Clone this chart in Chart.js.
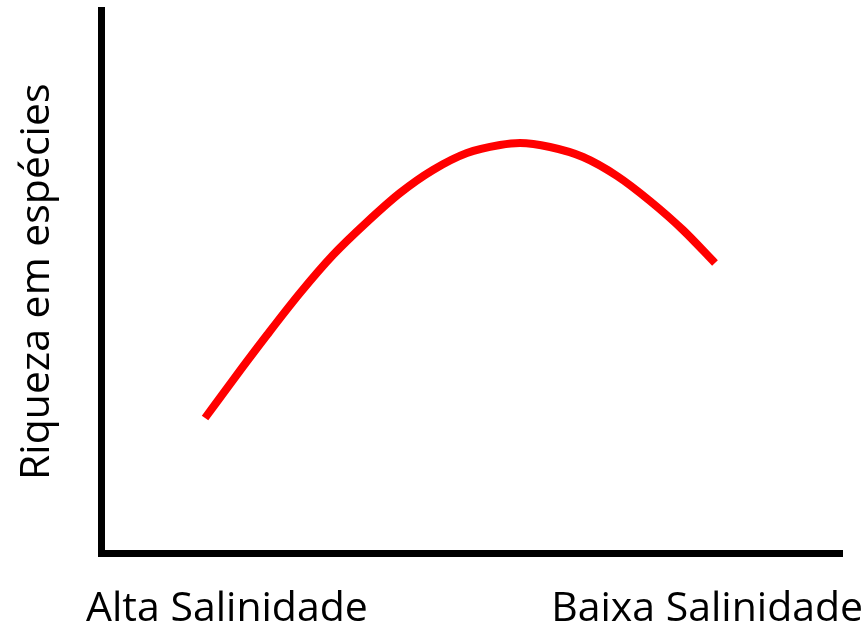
<!DOCTYPE html>
<html>
<head>
<meta charset="utf-8">
<script src="https://cdn.jsdelivr.net/npm/chart.js@4"></script>
<style>
  html, body { margin: 0; padding: 0; background: #ffffff; }
  #wrap { width: 868px; height: 629px; }
</style>
</head>
<body>
<div id="wrap"><canvas id="c" width="868" height="629"></canvas></div>
<script>
// Salinity gradient position (0 = left end of axis, 10 = right end)
const salinityX = [1.404, 1.781, 2.240, 2.686, 3.131, 3.590, 4.035, 4.480, 4.939, 5.385, 5.655, 6.059, 6.505, 6.964, 7.409, 7.854, 8.286];
// Species richness (relative units, 0..10)
const richness  = [2.493, 3.192, 4.020, 4.793, 5.492, 6.100, 6.633, 7.057, 7.369, 7.516, 7.553, 7.479, 7.295, 6.946, 6.486, 5.952, 5.345];
// Category labels on the x axis and where they sit
const tickValues = [1.70, 8.18];
const tickLabels = ['Alta Salinidade', 'Baixa Salinidade'];
const yTitle = 'Riqueza em espécies';

const points = salinityX.map((x, i) => ({ x: x, y: richness[i] }));
const FONT = '"Open Sans", "Noto Sans", sans-serif';

new Chart(document.getElementById('c'), {
  type: 'line',
  data: {
    datasets: [{
      data: points,
      borderColor: '#ff0000',
      borderWidth: 8,
      borderCapStyle: 'butt',
      pointRadius: 0,
      cubicInterpolationMode: 'monotone',
      fill: false
    }]
  },
  options: {
    responsive: false,
    animation: false,
    events: [],
    layout: { padding: { left: 0, right: 26, top: 10, bottom: 0 } },
    plugins: { legend: { display: false }, tooltip: { enabled: false } },
    scales: {
      x: {
        type: 'linear',
        min: 0, max: 10,
        grid: { display: true, drawOnChartArea: false, drawTicks: true, tickLength: 31, tickColor: 'rgba(0,0,0,0)' },
        border: { display: true, color: '#000000', width: 7 },
        afterBuildTicks: (scale) => { scale.ticks = tickValues.map(v => ({ value: v })); },
        afterFit: (scale) => { scale.height = 75.5; },
        ticks: {
          autoSkip: false,
          maxRotation: 0,
          padding: 0,
          color: '#000000',
          font: { family: FONT, size: 41 },
          callback: (value) => {
            const i = tickValues.indexOf(value);
            return i >= 0 ? tickLabels[i] : '';
          }
        }
      },
      y: {
        type: 'linear',
        min: 0, max: 10,
        grid: { display: false, drawTicks: false },
        border: { display: true, color: '#000000', width: 7 },
        ticks: { display: false },
        afterFit: (scale) => { scale.width = 101; },
        title: {
          display: true,
          text: yTitle,
          color: '#000000',
          font: { family: FONT, size: 41 },
          padding: { top: 13, bottom: 0 }
        }
      }
    }
  }
});
</script>
</body>
</html>
